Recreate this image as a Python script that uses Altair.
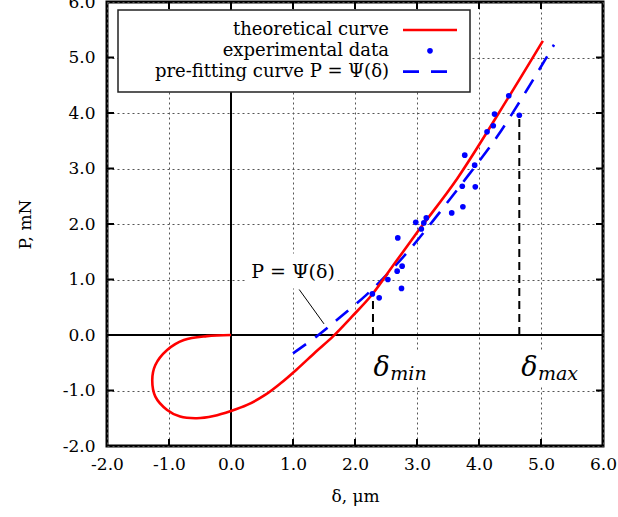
import altair as alt
import pandas as pd

# ---------------- data ----------------
# theoretical curve (red), traced in order along the curve
theory_x = [0.00, -0.39, -0.76, -1.03, -1.22, -1.27, -1.22, -1.03, -0.82, -0.55, -0.28, 0.00,
            0.26, 0.55, 0.80, 1.06, 1.36, 1.65, 1.95, 2.27, 2.62, 3.03, 3.65, 4.48, 5.03]
theory_y = [0.00, -0.02, -0.09, -0.27, -0.54, -0.81, -1.11, -1.35, -1.47, -1.50, -1.46, -1.37,
            -1.26, -1.08, -0.87, -0.62, -0.31, -0.02, 0.33, 0.72, 1.26, 1.89, 2.82, 4.29, 5.30]

# pre-fitting curve P = Psi(delta) (blue dashed)
prefit_x = [1.00, 1.41, 1.74, 2.17, 2.49, 2.89, 3.83, 4.29, 4.77, 5.21]
prefit_y = [-0.33, 0.00, 0.30, 0.71, 1.06, 1.55, 2.88, 3.57, 4.41, 5.23]

# experimental data (blue dots)
exp_x = [2.28, 2.39, 2.53, 2.68, 2.75, 2.76, 2.69, 2.98, 3.07, 3.11, 3.15,
         3.56, 3.74, 3.73, 3.94, 3.77, 3.93, 4.13, 4.23, 4.25, 4.48, 4.65]
exp_y = [0.74, 0.67, 1.00, 1.15, 0.84, 1.24, 1.75, 2.03, 1.91, 2.02, 2.11,
         2.20, 2.31, 2.68, 2.67, 3.24, 3.06, 3.66, 3.77, 3.98, 4.31, 3.96]

# delta_min / delta_max markers
marker_x = [2.29, 4.65]
marker_top = [0.70, 3.96]
marker_main = ["δ", "δ"]
marker_sub = ["min", "max"]
marker_main_x = [2.30, 4.68]
marker_sub_x = [2.57, 4.95]
marker_main_y = [-0.74, -0.74]
marker_sub_y = [-0.81, -0.81]
marker_box_x = [2.17, 4.54]
marker_box_x2 = [3.30, 5.71]
marker_box_y = [-0.27, -0.27]
marker_box_y2 = [-0.92, -0.92]

# annotation "P = Psi(delta)"
annot_text = ["P = Ψ(δ)"]
annot_x = [1.00]
annot_y = [1.13]
annot_box = [0.23, 1.72, 0.84, 1.47]
leader_x = [1.10, 1.50]
leader_y = [0.82, 0.20]

tick_values = [-2, -1, 0, 1, 2, 3, 4, 5, 6]
inner_ticks = [-1, 0, 1, 2, 3, 4, 5]
legend_labels = ["theoretical curve", "experimental data", "pre-fitting curve P = Ψ(δ)"]

# ---------------- chart ----------------
W, H = 496, 444
FONT = "DejaVu Serif"
FS_TICK = 17
FS_LEG = 18
label_expr = "replace(format(datum.value, '.1f'), '\u2212', '-')"

xscale = alt.Scale(domain=[-2, 6], nice=False, zero=False)
yscale = alt.Scale(domain=[-2, 6], nice=False, zero=False)

xaxis = alt.Axis(values=tick_values, labelExpr=label_expr, grid=True, gridDash=[2, 3],
                 gridColor="#555", gridWidth=1, domain=False, ticks=False, labelPadding=10,
                 labelFont=FONT, labelFontSize=FS_TICK, labelColor="black", labelFlush=False,
                 labelOverlap=False, title="δ, μm", titleFont=FONT, titleFontSize=FS_TICK,
                 titleFontWeight="normal", titleColor="black", titleX=248, titleY=50,
                 titleBaseline="middle", titleAlign="center")
yaxis = alt.Axis(values=tick_values, labelExpr=label_expr, grid=True, gridDash=[2, 3],
                 gridColor="#555", gridWidth=1, domain=False, ticks=False, labelPadding=12,
                 labelFont=FONT, labelFontSize=FS_TICK, labelColor="black", labelFlush=False,
                 labelOverlap=False, title="P, mN", titleFont=FONT, titleFontSize=FS_TICK,
                 titleFontWeight="normal", titleColor="black", titleX=-82, titleY=222,
                 titleAngle=-90, titleBaseline="middle", titleAlign="center")


def X(field="x"):
    return alt.X(f"{field}:Q", scale=xscale, axis=xaxis)


def Y(field="y"):
    return alt.Y(f"{field}:Q", scale=yscale, axis=yaxis)


theory = pd.DataFrame({"x": theory_x, "y": theory_y, "o": range(len(theory_x))})
prefit = pd.DataFrame({"x": prefit_x, "y": prefit_y, "o": range(len(prefit_x))})
exp = pd.DataFrame({"x": exp_x, "y": exp_y})
markers = pd.DataFrame({"x": marker_x, "y": [0, 0], "y2": marker_top})
mboxes = pd.DataFrame({"x": marker_box_x, "x2": marker_box_x2, "y": marker_box_y, "y2": marker_box_y2})
mmain = pd.DataFrame({"x": marker_main_x, "y": marker_main_y, "t": marker_main})
msub = pd.DataFrame({"x": marker_sub_x, "y": marker_sub_y, "t": marker_sub})
abox = pd.DataFrame({"x": [annot_box[0]], "x2": [annot_box[1]], "y": [annot_box[2]], "y2": [annot_box[3]]})
atext = pd.DataFrame({"x": annot_x, "y": annot_y, "t": annot_text})
leader = pd.DataFrame({"x": leader_x, "y": leader_y})
zero_h = pd.DataFrame({"x": [-2], "x2": [6], "y": [0]})
zero_v = pd.DataFrame({"x": [0], "y": [-2], "y2": [6]})
tk = pd.DataFrame({"v": inner_ticks})

layers = []

# white boxes behind annotations (hide grid)
layers.append(alt.Chart(mboxes).mark_rect(fill="white").encode(x=X(), x2="x2:Q", y=Y(), y2="y2:Q"))
layers.append(alt.Chart(abox).mark_rect(fill="white").encode(x=X(), x2="x2:Q", y=Y(), y2="y2:Q"))

# zero lines
layers.append(alt.Chart(zero_h).mark_rule(color="black", strokeWidth=2).encode(x=X(), x2="x2:Q", y=Y()))
layers.append(alt.Chart(zero_v).mark_rule(color="black", strokeWidth=2).encode(x=X(), y=Y(), y2="y2:Q"))

# delta markers
layers.append(alt.Chart(markers).mark_rule(color="black", strokeWidth=2, strokeDash=[8, 5]).encode(
    x=X(), y=Y(), y2="y2:Q"))

# curves
layers.append(alt.Chart(prefit).mark_line(color="#0000ff", strokeWidth=2.6, strokeDash=[16, 11],
                                          interpolate="catmull-rom").encode(x=X(), y=Y(), order="o:Q"))
layers.append(alt.Chart(theory).mark_line(color="#ff0000", strokeWidth=2.6,
                                          interpolate="catmull-rom").encode(x=X(), y=Y(), order="o:Q"))

# experimental points
layers.append(alt.Chart(exp).mark_circle(color="#0000ff", size=32, opacity=1).encode(x=X(), y=Y()))

# annotation
layers.append(alt.Chart(leader).mark_line(color="black", strokeWidth=1).encode(x=X(), y=Y()))
layers.append(alt.Chart(atext).mark_text(font=FONT, fontSize=19, color="black", align="center",
                                         baseline="middle").encode(x=X(), y=Y(), text="t:N"))
layers.append(alt.Chart(mmain).mark_text(font=FONT, fontSize=27, fontStyle="italic", color="black",
                                         align="left", baseline="alphabetic").encode(x=X(), y=Y(), text="t:N"))
layers.append(alt.Chart(msub).mark_text(font=FONT, fontSize=19, fontStyle="italic", color="black",
                                        align="left", baseline="alphabetic").encode(x=X(), y=Y(), text="t:N"))

# inward ticks on all four sides
layers.append(alt.Chart(tk).mark_rule(color="black", strokeWidth=2).encode(
    x=alt.X("v:Q", scale=xscale, axis=xaxis), y=alt.value(H), y2=alt.value(H - 7)))
layers.append(alt.Chart(tk).mark_rule(color="black", strokeWidth=2).encode(
    x=alt.X("v:Q", scale=xscale, axis=xaxis), y=alt.value(0), y2=alt.value(7)))
layers.append(alt.Chart(tk).mark_rule(color="black", strokeWidth=2).encode(
    y=alt.Y("v:Q", scale=yscale, axis=yaxis), x=alt.value(0), x2=alt.value(7)))
layers.append(alt.Chart(tk).mark_rule(color="black", strokeWidth=2).encode(
    y=alt.Y("v:Q", scale=yscale, axis=yaxis), x=alt.value(W), x2=alt.value(W - 7)))

# legend (manual: labels on the left, symbols on the right)
leg = pd.DataFrame({"t": legend_labels, "row": [0, 1, 2]})
layers.append(alt.Chart(leg).mark_rect(fill="white", stroke="#222", strokeWidth=1.5).encode(
    x=alt.value(11), x2=alt.value(363), y=alt.value(8), y2=alt.value(90)).transform_filter("datum.row == 0"))
for i, lab in enumerate(legend_labels):
    yy = 28 + i * 20.8
    layers.append(alt.Chart(leg).transform_filter(f"datum.row == {i}").mark_text(
        font=FONT, fontSize=FS_LEG, color="black", align="right", baseline="middle").encode(
        x=alt.value(282), y=alt.value(yy), text="t:N"))
layers.append(alt.Chart(leg).transform_filter("datum.row == 0").mark_rule(color="#ff0000", strokeWidth=2.6).encode(
    x=alt.value(296), x2=alt.value(350), y=alt.value(28)))
layers.append(alt.Chart(leg).transform_filter("datum.row == 1").mark_circle(color="#0000ff", size=32, opacity=1).encode(
    x=alt.value(323), y=alt.value(48.8)))
layers.append(alt.Chart(leg).transform_filter("datum.row == 2").mark_rule(
    color="#0000ff", strokeWidth=2.6, strokeDash=[16, 12]).encode(
    x=alt.value(296), x2=alt.value(341), y=alt.value(69.6)))

chart = alt.layer(*layers).properties(
    width=W, height=H,
    autosize=alt.AutoSizeParams(type="none"),
    padding={"left": 107, "top": 2, "right": 15, "bottom": 71},
    background="white",
).configure_view(stroke="black", strokeWidth=3)

chart.save("out.html", embed_options={"renderer": "svg", "actions": False})
